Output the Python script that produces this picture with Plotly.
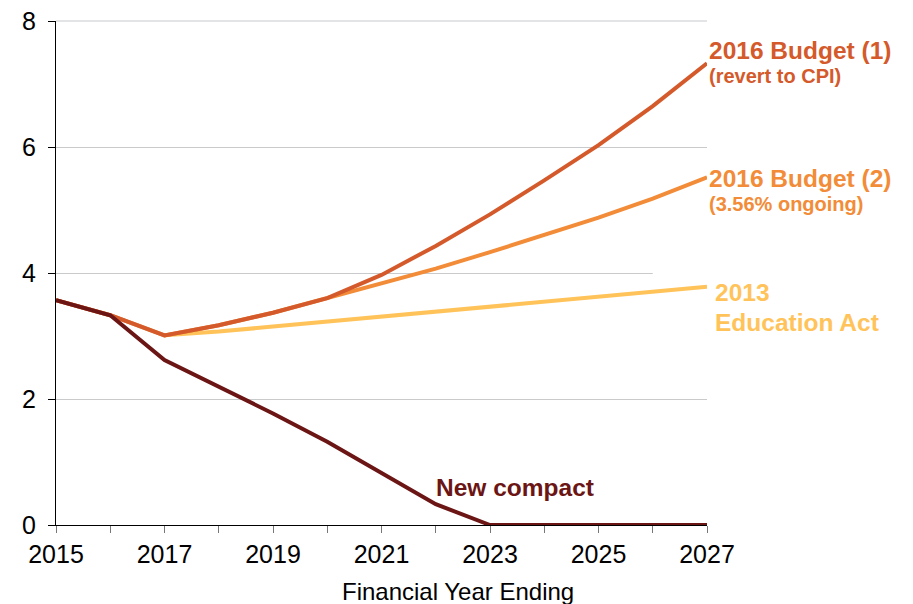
import plotly.graph_objects as go

# %%

years = list(range(2015, 2028))

new_compact = [3.57, 3.33, 2.62, 2.2, 1.77, 1.32, 0.82, 0.33, 0, 0, 0, 0, 0]
budget_1 = [3.57, 3.33, 3.01, 3.17, 3.37, 3.6, 3.97, 4.43, 4.93, 5.47, 6.03, 6.65, 7.33]
budget_2 = [3.57, 3.33, 3.01, 3.17, 3.37, 3.6, 3.83, 4.07, 4.33, 4.6, 4.88, 5.18, 5.52]
edu_act = [None, None, 3.01, 3.07, 3.15, 3.23, 3.31, 3.39, 3.47, 3.55, 3.63, 3.7, 3.78]

tick_labels = [str(y) if y % 2 == 1 else "" for y in years]

c_compact = "#6B1515"
c_b1 = "#D45A2B"
c_b2 = "#F28C38"
c_edu = "#FFC35A"

font = "Arial, Liberation Sans, sans-serif"

# %%

fig = go.Figure()

for vals, col in [(edu_act, c_edu), (budget_2, c_b2), (budget_1, c_b1), (new_compact, c_compact)]:
    fig.add_trace(go.Scatter(x=years, y=vals, mode='lines',
                             line=dict(color=col, width=4), hoverinfo='skip'))

# the gridline at 4 stops short under the label: mask its last stretch
fig.add_shape(type='rect', x0=2026, x1=2027.2, y0=3.9, y1=4.1,
              fillcolor='white', line=dict(width=0), layer='between')
# top gridline (plotly skips the one on the range edge)
fig.add_shape(type='line', xref='x', yref='paper', x0=2015, x1=2027, y0=1, y1=1,
              line=dict(color="#C8CACC", width=1.2), layer='between')

labels = [
    ("<b>2016 Budget (1)</b>", 7.53, c_b1, 24.5, 0),
    ("<b>(revert to CPI)</b>", 7.12, c_b1, 20, 0),
    ("<b>2016 Budget (2)</b>", 5.50, c_b2, 24.5, 0),
    ("<b>(3.56% ongoing)</b>", 5.10, c_b2, 20, 0),
    ("<b>2013</b>", 3.69, c_edu, 24.5, 6),
    ("<b>Education Act</b>", 3.22, c_edu, 24.5, 6),
]
for txt, ty, col, sz, xs in labels:
    fig.add_annotation(x=2027, y=ty, text=txt, showarrow=False, xanchor='left',
                       xshift=xs, font=dict(family=font, size=sz, color=col))

fig.add_annotation(x=2021.97, y=0.6, text="<b>New compact</b>", showarrow=False,
                   xanchor='left', font=dict(family=font, size=24.5, color=c_compact))

# axis title sits centred on the whole figure, not the plot area
fig.add_annotation(xref='paper', yref='paper', x=0.6175, y=0, yshift=-66,
                   yanchor='middle', text="Financial Year Ending", showarrow=False,
                   font=dict(family=font, size=24, color='black'))

fig.update_layout(
    width=913, height=604,
    margin=dict(l=48, r=214, t=13, b=87),
    plot_bgcolor='white', paper_bgcolor='white',
    showlegend=False,
    font=dict(family=font, size=25, color='black'),
)

fig.update_xaxes(range=[2015, 2027], tickvals=years, ticktext=tick_labels,
                 showgrid=False, showline=True, linecolor='black', linewidth=1.2,
                 ticks='outside', ticklen=7, tickcolor='#777777',
                 tickfont=dict(size=25), zeroline=False, automargin=False,
                 ticklabeloverflow='allow')

fig.update_yaxes(range=[0, 8], tickvals=[0, 2, 4, 6, 8],
                 showgrid=True, gridcolor="#C8CACC", gridwidth=1.2,
                 showline=True, linecolor='black', linewidth=1.2,
                 ticks='outside', ticklen=7, tickcolor='black', ticklabelstandoff=7,
                 tickfont=dict(size=25), zeroline=False, automargin=False,
                 ticklabeloverflow='allow')

fig.write_html("out.html")
